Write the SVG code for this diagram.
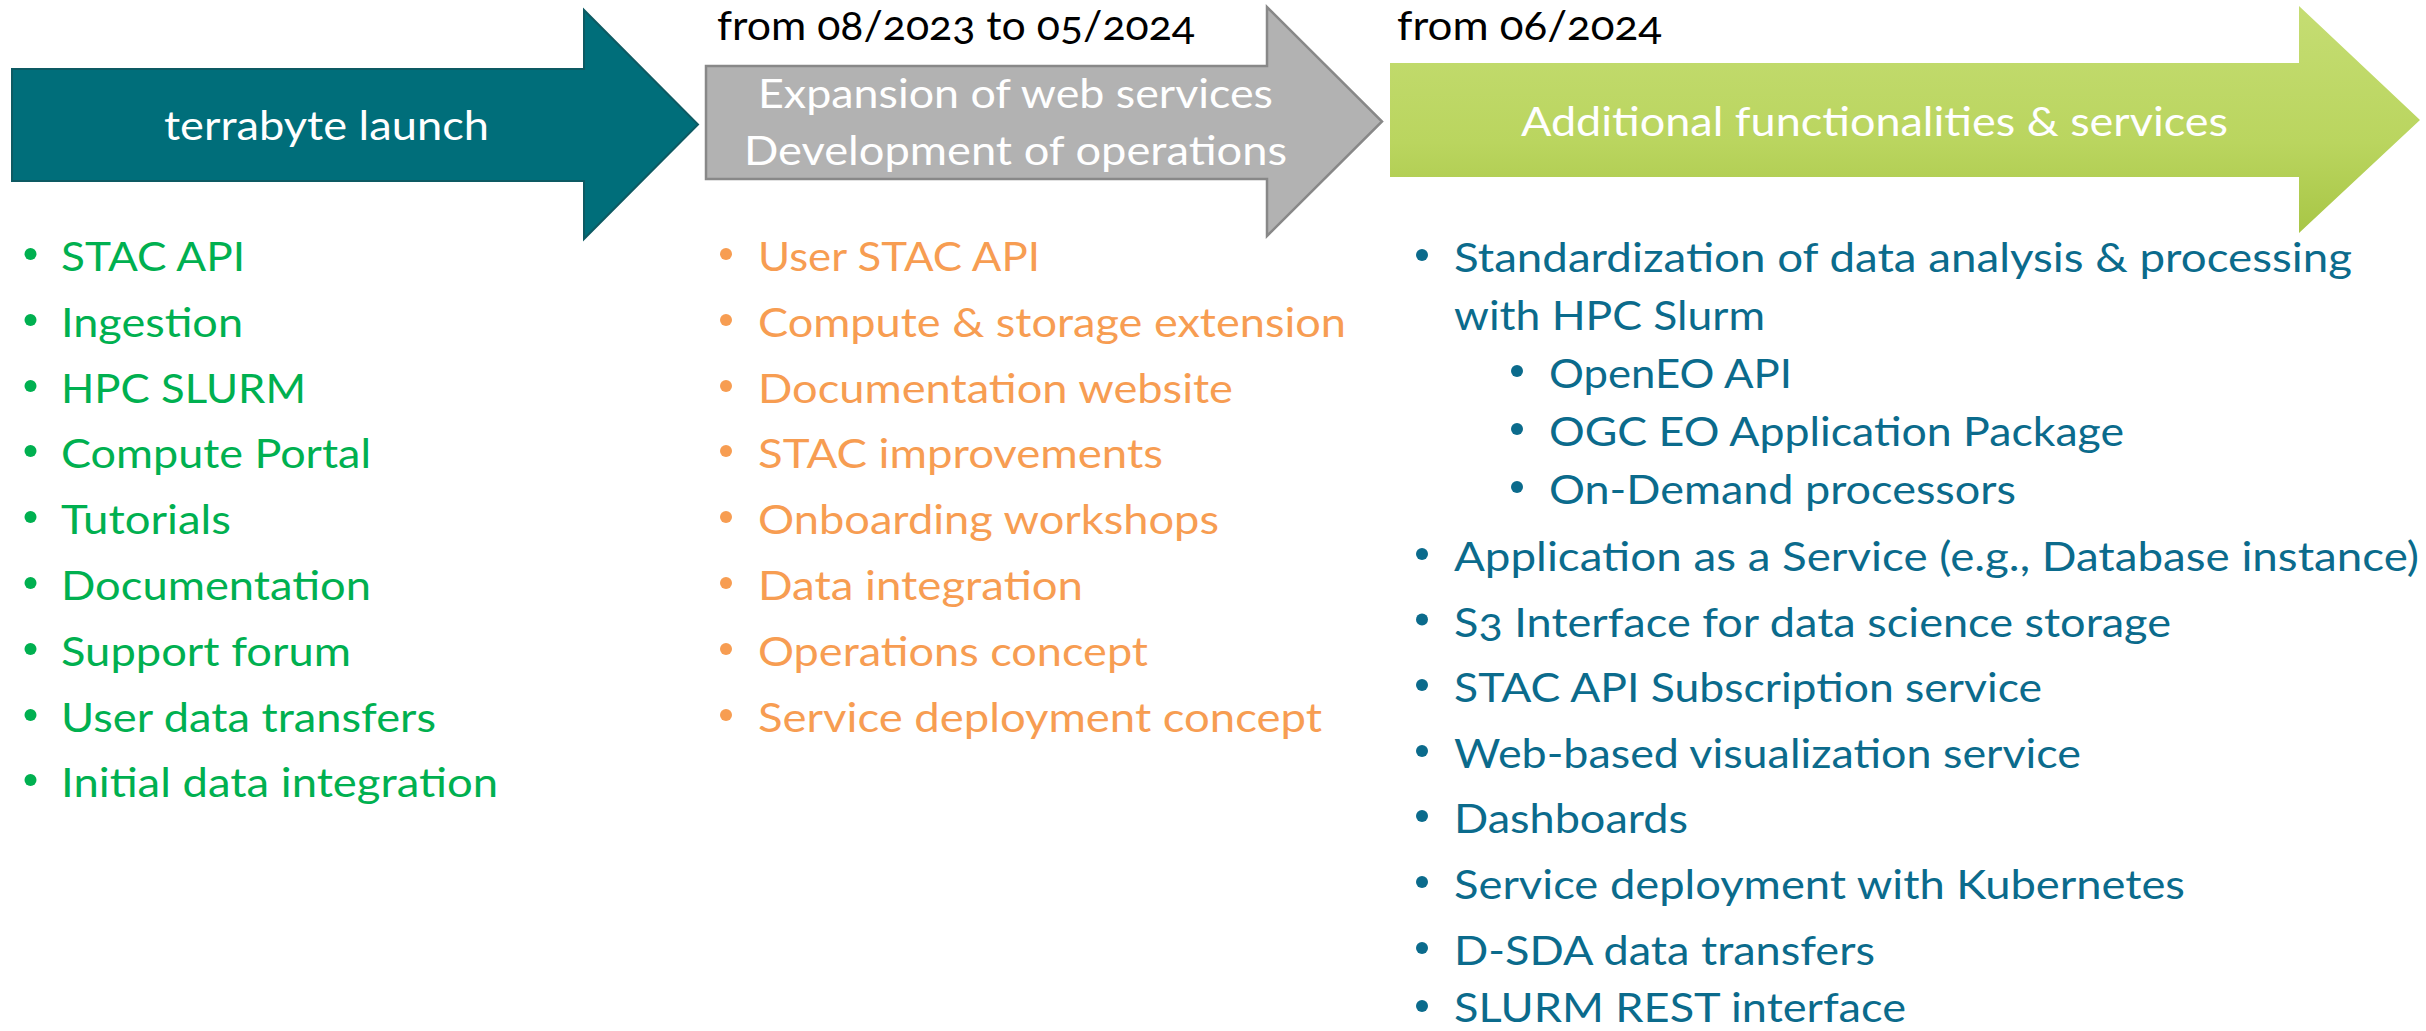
<svg xmlns="http://www.w3.org/2000/svg" width="2426" height="1031" viewBox="0 0 2426 1031">
<defs>
<linearGradient id="gGreen" x1="0" y1="0" x2="0" y2="1">
<stop offset="0" stop-color="#C5DD73"/>
<stop offset="0.6" stop-color="#BAD55F"/>
<stop offset="1" stop-color="#A8C646"/>
</linearGradient>
<style>
text{font-family:Lato,"Open Sans","DejaVu Sans",sans-serif;font-size:41px;font-variant-numeric:oldstyle-nums;font-feature-settings:"onum" 1;}
.w{fill:#FFFFFF;}
.k{fill:#000000;}
.g{fill:#00B050;}
.o{fill:#F79D52;}
.b{fill:#0B6B8C;}
</style>
</defs>
<rect x="0" y="0" width="2426" height="1031" fill="#FFFFFF"/>

<g id="phase1">
<path d="M12,69 L584,69 L584,10 L698,124.5 L584,239 L584,181 L12,181 Z" fill="#006E7A" stroke="#0D5A63" stroke-width="2"/>
<text class="w" x="164" y="140" textLength="325" lengthAdjust="spacingAndGlyphs">terrabyte launch</text>
</g>

<g id="phase2">
<text class="k" x="717" y="40" textLength="478" lengthAdjust="spacingAndGlyphs">from 08/2023 to 05/2024</text>
<path d="M706,66 L1267,66 L1267,7 L1382,121.5 L1267,236 L1267,179 L706,179 Z" fill="#B2B2B2" stroke="#888888" stroke-width="2.5"/>
<text class="w" x="758" y="108" textLength="515" lengthAdjust="spacingAndGlyphs">Expansion of web services</text>
<text class="w" x="744" y="165" textLength="543" lengthAdjust="spacingAndGlyphs">Development of operations</text>
</g>

<g id="phase3">
<text class="k" x="1397" y="40" textLength="265" lengthAdjust="spacingAndGlyphs">from 06/2024</text>
<path d="M1390,63 L2299,63 L2299,6 L2420,120 L2299,233 L2299,177 L1390,177 Z" fill="url(#gGreen)"/>
<text class="w" x="1521" y="136" textLength="707" lengthAdjust="spacingAndGlyphs">Additional functionalities &amp; services</text>
</g>

<g id="connectors"></g>

<g id="list1">
<g class="g">
<circle cx="30.5" cy="254" r="6"/>
<circle cx="30.5" cy="320" r="6"/>
<circle cx="30.5" cy="386" r="6"/>
<circle cx="30.5" cy="451" r="6"/>
<circle cx="30.5" cy="517" r="6"/>
<circle cx="30.5" cy="583" r="6"/>
<circle cx="30.5" cy="649" r="6"/>
<circle cx="30.5" cy="715" r="6"/>
<circle cx="30.5" cy="780" r="6"/>
</g>
<text class="g" x="61" y="271" textLength="184" lengthAdjust="spacingAndGlyphs">STAC API</text>
<text class="g" x="61" y="337" textLength="182" lengthAdjust="spacingAndGlyphs">Ingestion</text>
<text class="g" x="61" y="403" textLength="245" lengthAdjust="spacingAndGlyphs">HPC SLURM</text>
<text class="g" x="61" y="468" textLength="310" lengthAdjust="spacingAndGlyphs">Compute Portal</text>
<text class="g" x="61" y="534" textLength="170" lengthAdjust="spacingAndGlyphs">Tutorials</text>
<text class="g" x="61" y="600" textLength="310" lengthAdjust="spacingAndGlyphs">Documentation</text>
<text class="g" x="61" y="666" textLength="290" lengthAdjust="spacingAndGlyphs">Support forum</text>
<text class="g" x="61" y="732" textLength="375" lengthAdjust="spacingAndGlyphs">User data transfers</text>
<text class="g" x="61" y="797" textLength="437" lengthAdjust="spacingAndGlyphs">Initial data integration</text>
</g>

<g id="list2">
<g class="o">
<circle cx="726" cy="254" r="6"/>
<circle cx="726" cy="320" r="6"/>
<circle cx="726" cy="386" r="6"/>
<circle cx="726" cy="451" r="6"/>
<circle cx="726" cy="517" r="6"/>
<circle cx="726" cy="583" r="6"/>
<circle cx="726" cy="649" r="6"/>
<circle cx="726" cy="715" r="6"/>
</g>
<text class="o" x="758" y="271" textLength="282" lengthAdjust="spacingAndGlyphs">User STAC API</text>
<text class="o" x="758" y="337" textLength="588" lengthAdjust="spacingAndGlyphs">Compute &amp; storage extension</text>
<text class="o" x="758" y="403" textLength="475" lengthAdjust="spacingAndGlyphs">Documentation website</text>
<text class="o" x="758" y="468" textLength="405" lengthAdjust="spacingAndGlyphs">STAC improvements</text>
<text class="o" x="758" y="534" textLength="461" lengthAdjust="spacingAndGlyphs">Onboarding workshops</text>
<text class="o" x="758" y="600" textLength="325" lengthAdjust="spacingAndGlyphs">Data integration</text>
<text class="o" x="758" y="666" textLength="390" lengthAdjust="spacingAndGlyphs">Operations concept</text>
<text class="o" x="758" y="732" textLength="564" lengthAdjust="spacingAndGlyphs">Service deployment concept</text>
</g>

<g id="list3">
<g class="b">
<circle cx="1422" cy="255" r="6"/>
<circle cx="1517" cy="371" r="6"/>
<circle cx="1517" cy="429" r="6"/>
<circle cx="1517" cy="487" r="6"/>
<circle cx="1422" cy="554" r="6"/>
<circle cx="1422" cy="619.5" r="6"/>
<circle cx="1422" cy="685" r="6"/>
<circle cx="1422" cy="751" r="6"/>
<circle cx="1422" cy="816" r="6"/>
<circle cx="1422" cy="882" r="6"/>
<circle cx="1422" cy="948" r="6"/>
<circle cx="1422" cy="1006" r="6"/>
</g>
<text class="b" x="1454" y="272" textLength="898" lengthAdjust="spacingAndGlyphs">Standardization of data analysis &amp; processing</text>
<text class="b" x="1454" y="330" textLength="311" lengthAdjust="spacingAndGlyphs">with HPC Slurm</text>
<text class="b" x="1549" y="388" textLength="243" lengthAdjust="spacingAndGlyphs">OpenEO API</text>
<text class="b" x="1549" y="446" textLength="575" lengthAdjust="spacingAndGlyphs">OGC EO Application Package</text>
<text class="b" x="1549" y="504" textLength="467" lengthAdjust="spacingAndGlyphs">On-Demand processors</text>
<text class="b" x="1454" y="571" textLength="965" lengthAdjust="spacingAndGlyphs">Application as a Service (e.g., Database instance)</text>
<text class="b" x="1454" y="636.5" textLength="717" lengthAdjust="spacingAndGlyphs">S3 Interface for data science storage</text>
<text class="b" x="1454" y="702" textLength="588" lengthAdjust="spacingAndGlyphs">STAC API Subscription service</text>
<text class="b" x="1454" y="768" textLength="627" lengthAdjust="spacingAndGlyphs">Web-based visualization service</text>
<text class="b" x="1454" y="833" textLength="234" lengthAdjust="spacingAndGlyphs">Dashboards</text>
<text class="b" x="1454" y="899" textLength="731" lengthAdjust="spacingAndGlyphs">Service deployment with Kubernetes</text>
<text class="b" x="1454" y="965" textLength="421" lengthAdjust="spacingAndGlyphs">D-SDA data transfers</text>
<text class="b" x="1454" y="1022" textLength="452" lengthAdjust="spacingAndGlyphs">SLURM REST interface</text>
</g>
</svg>
